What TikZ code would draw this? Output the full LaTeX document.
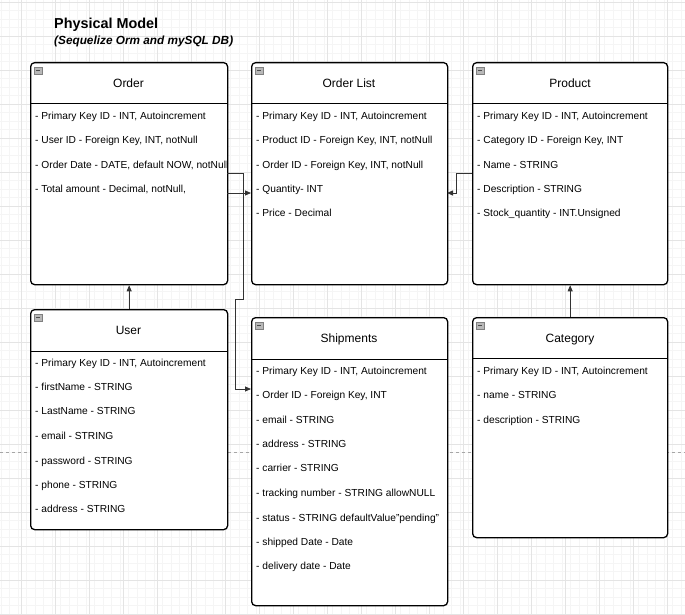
\documentclass[tikz,border=0pt]{standalone}
\usepackage{fontspec}
\setmainfont{Liberation Sans}
\usetikzlibrary{arrows.meta}
\definecolor{gridminor}{HTML}{F5F5F5}
\definecolor{gridmajor}{HTML}{E4E4E4}
\definecolor{connc}{HTML}{333333}
\definecolor{icong}{HTML}{B8B8B8}
\tikzset{
  entity/.style={draw=black, line width=1.3pt, rounded corners=4pt, fill=white, anchor=north west, inner sep=0pt},
  headtxt/.style={font=\fontsize{12}{14}\selectfont, anchor=base, inner sep=0pt},
  rowtxt/.style={font=\fontsize{10.2}{12}\selectfont, anchor=base west, inner sep=0pt},
  sepline/.style={draw=black, line width=1pt},
  conn/.style={draw=connc, line width=0.8pt, -{Triangle[length=6pt,width=5pt]}},
}
\begin{document}
\begin{tikzpicture}[x=1pt,y=-1pt]
\useasboundingbox (0,0) rectangle (685,615);
\fill[white] (0,0) rectangle (685,615);
% grid
\foreach \i in {0,...,81} {
  \draw[gridminor, line width=0.5pt] ({\i*8.5+0.75},0) -- ({\i*8.5+0.75},615);
}
\foreach \i in {0,...,73} {
  \draw[gridminor, line width=0.5pt] (0,{\i*8.5+2}) -- (685,{\i*8.5+2});
}
\foreach \i in {0,...,20} {
  \draw[gridmajor, line width=0.7pt] ({\i*34-13},0) -- ({\i*34-13},615);
}
\foreach \i in {0,...,18} {
  \draw[gridmajor, line width=0.7pt] (0,{\i*34+2}) -- (685,{\i*34+2});
}
\draw[gray!70, dashed, line width=0.6pt] (0,452) -- (685,452);

% title
\node[anchor=west, inner sep=0pt, font=\bfseries\fontsize{14.4}{16}\selectfont] (title) at (54,25) {Physical Model};
\node[anchor=west, inner sep=0pt, font=\bfseries\itshape\fontsize{11.8}{14}\selectfont] (subtitle) at (54,41) {(Sequelize Orm and mySQL DB)};

% entity boxes
\node[entity, minimum width=197pt, minimum height=222pt] (order) at (30,62) {};
\node[entity, minimum width=196pt, minimum height=222pt] (orderlist) at (251,62) {};
\node[entity, minimum width=195pt, minimum height=222pt] (product) at (472,62) {};
\node[entity, minimum width=197pt, minimum height=220pt] (user) at (30,309) {};
\node[entity, minimum width=196pt, minimum height=288pt] (shipments) at (251,317) {};
\node[entity, minimum width=195pt, minimum height=220pt] (category) at (472,317) {};

% header separators
\draw[sepline] (30,104) -- (227,104);
\draw[sepline] (251,104) -- (447,104);
\draw[sepline] (472,104) -- (667,104);
\draw[sepline] (30,351) -- (227,351);
\draw[sepline] (251,359) -- (447,359);
\draw[sepline] (472,358) -- (667,358);

% collapse icons
\foreach \n/\x/\y in {io/34/67, iol/255/67, ip/476/67, iu/34/314, is/255/322, ic/476/322} {
  \node[draw=gray, fill=icong, minimum width=8pt, minimum height=7pt, inner sep=0pt, anchor=north west, line width=0.5pt] (\n) at (\x,\y) {};
  \draw[black!70, line width=1pt] (\x+1.8,\y+3.5) -- (\x+6.2,\y+3.5);
}

% headers
\node[headtxt] (horder) at (128.5,87.5) {Order};
\node[headtxt] (horderlist) at (349,87.5) {Order List};
\node[headtxt] (hproduct) at (570,87.5) {Product};
\node[headtxt] (huser) at (128.5,334.5) {User};
\node[headtxt] (hship) at (349,342.5) {Shipments};
\node[headtxt] (hcat) at (570,342.5) {Category};

% Order rows
\node[rowtxt] (o1) at (35,119.7) {- Primary Key ID - INT, Autoincrement};
\node[rowtxt] (o2) at (35,143.7) {- User ID - Foreign Key, INT, notNull};
\node[rowtxt] (o3) at (35,168.7) {- Order Date - DATE, default NOW, notNull};
\node[rowtxt] (o4) at (35,192.7) {- Total amount - Decimal, notNull,};

% Order List rows
\node[rowtxt] (l1) at (256,119.7) {- Primary Key ID - INT, Autoincrement};
\node[rowtxt] (l2) at (256,143.7) {- Product ID - Foreign Key, INT, notNull};
\node[rowtxt] (l3) at (256,168.7) {- Order ID - Foreign Key, INT, notNull};
\node[rowtxt] (l4) at (256,192.7) {- Quantity- INT};
\node[rowtxt] (l5) at (256,216.7) {- Price - Decimal};

% Product rows
\node[rowtxt] (p1) at (477,119.7) {- Primary Key ID - INT, Autoincrement};
\node[rowtxt] (p2) at (477,143.7) {- Category ID - Foreign Key, INT};
\node[rowtxt] (p3) at (477,168.7) {- Name - STRING};
\node[rowtxt] (p4) at (477,192.7) {- Description - STRING};
\node[rowtxt] (p5) at (477,216.7) {- Stock\_quantity - INT.Unsigned};

% User rows
\node[rowtxt] (u1) at (35,366.7) {- Primary Key ID - INT, Autoincrement};
\node[rowtxt] (u2) at (35,390.7) {- firstName - STRING};
\node[rowtxt] (u3) at (35,414.7) {- LastName - STRING};
\node[rowtxt] (u4) at (35,439.7) {- email - STRING};
\node[rowtxt] (u5) at (35,464.7) {- password - STRING};
\node[rowtxt] (u6) at (35,488.7) {- phone - STRING};
\node[rowtxt] (u7) at (35,512.7) {- address - STRING};

% Shipments rows
\node[rowtxt] (s1) at (256,374.7) {- Primary Key ID - INT, Autoincrement};
\node[rowtxt] (s2) at (256,398.7) {- Order ID - Foreign Key, INT};
\node[rowtxt] (s3) at (256,423.7) {- email - STRING};
\node[rowtxt] (s4) at (256,447.7) {- address - STRING};
\node[rowtxt] (s5) at (256,471.7) {- carrier - STRING};
\node[rowtxt] (s6) at (256,496.7) {- tracking number - STRING allowNULL};
\node[rowtxt] (s7) at (256,521.7) {- status - STRING defaultValue"pending"};
\node[rowtxt] (s8) at (256,545.7) {- shipped Date - Date};
\node[rowtxt] (s9) at (256,569.7) {- delivery date - Date};

% Category rows
\node[rowtxt] (c1) at (477,374.7) {- Primary Key ID - INT, Autoincrement};
\node[rowtxt] (c2) at (477,398.7) {- name - STRING};
\node[rowtxt] (c3) at (477,423.7) {- description - STRING};

% connectors
\draw[conn] (user.north) -- (order.south);
\draw[conn] (category.north) -- (product.south);
\coordinate (oa) at (227,193);
\coordinate (la) at (251,193);
\draw[conn] (oa) -- (la);
\coordinate (ob) at (227,173);
\coordinate (sb) at (251,389);
\draw[conn] (ob) -- (243,173) -- (243,299) -- (235,299) -- (235,389) -- (sb);
\coordinate (pa) at (472,173);
\coordinate (lb) at (447,193);
\draw[conn] (pa) -- (456,173) -- (456,193) -- (lb);
\end{tikzpicture}
\end{document}
